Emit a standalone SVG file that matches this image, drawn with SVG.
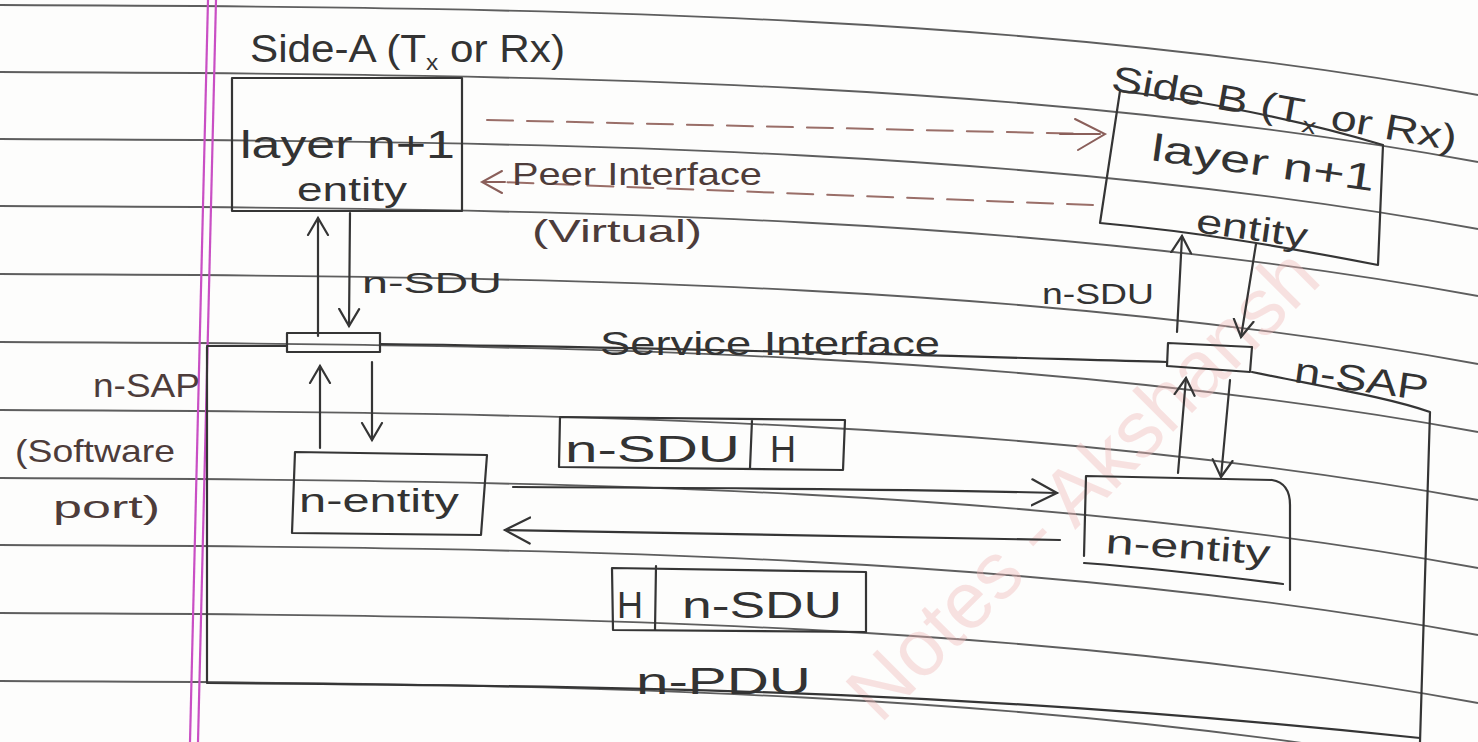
<svg xmlns="http://www.w3.org/2000/svg" width="1478" height="742" viewBox="0 0 1478 742">
<defs>
<style>
.rule{fill:none;stroke:#5e5e5e;stroke-width:1.8}
.margin{fill:none;stroke:#c94fc4;stroke-width:2.2}
.ink{fill:none;stroke:#353535;stroke-width:2.2;stroke-linecap:round;stroke-linejoin:round}
.peer{fill:none;stroke:#9a6e68;stroke-width:2;stroke-dasharray:26 14;stroke-linecap:round}
.peerhead{fill:none;stroke:#8a5f5a;stroke-width:2;stroke-linecap:round}
.t{font-family:"Liberation Sans",Arial,sans-serif;fill:#333}
.tb{font-family:"Liberation Sans",Arial,sans-serif;fill:#4d3c3a}
.wm{font-family:"Liberation Sans",Arial,sans-serif;fill:#f0b8b8;opacity:0.4}
</style>
<marker id="ah" markerWidth="26" markerHeight="26" refX="18" refY="11" orient="auto" markerUnits="userSpaceOnUse" viewBox="0 0 26 22">
<path d="M1,1 L18,11 L1,21" fill="none" stroke="#353535" stroke-width="2.2" stroke-linecap="round"/>
</marker>
<marker id="ahL" markerWidth="32" markerHeight="32" refX="26" refY="14" orient="auto" markerUnits="userSpaceOnUse" viewBox="0 0 32 28">
<path d="M1,1 L26,14 L1,27" fill="none" stroke="#353535" stroke-width="2.2" stroke-linecap="round"/>
</marker>
</defs>
<rect width="1478" height="742" fill="#fdfdfc"/>
<g id="paper">
<path class="rule" d="M0,5 C600,7 1050,17 1478,95"/>
<path class="rule" d="M0,72 C600,74 1050,84 1478,162"/>
<path class="rule" d="M0,139 C600,141 1050,151 1478,229"/>
<path class="rule" d="M0,206 C600,208 1050,218 1478,296"/>
<path class="rule" d="M0,274 C600,276 1050,286 1478,364"/>
<path class="rule" d="M0,342 C600,344 1050,354 1478,432"/>
<path class="rule" d="M0,410 C600,412 1050,422 1478,500"/>
<path class="rule" d="M0,478 C600,480 1050,490 1478,568"/>
<path class="rule" d="M0,545 C600,547 1050,557 1478,635"/>
<path class="rule" d="M0,613 C600,615 1050,625 1478,703"/>
<path class="rule" d="M0,681 C600,683 1050,693 1478,771"/>
<path class="margin" d="M208,0 L190,742"/>
<path class="margin" d="M216,0 L198,742"/>
</g>
<text class="wm" font-size="80" transform="translate(880,725) rotate(-45)">Notes - Akshansh</text>
<g id="outer-box">
<path class="ink" d="M207,347 L207,683 C700,686 1000,694 1420,738"/>
<path class="ink" d="M1252,372 C1330,388 1390,398 1430,412 L1420,742"/>
</g>
<g id="side-a-label">
<text class="t" x="250" y="62" font-size="38" textLength="315" lengthAdjust="spacingAndGlyphs">Side-A (T<tspan font-size="22" dy="8">x</tspan><tspan dy="-8"> or Rx)</tspan></text>
</g>
<g id="layer-a">
<rect class="ink" x="232" y="78" width="230" height="133"/>
<text class="t" x="240" y="158" font-size="38" textLength="215" lengthAdjust="spacingAndGlyphs">layer n+1</text>
<text class="t" x="297" y="201" font-size="34" textLength="110" lengthAdjust="spacingAndGlyphs">entity</text>
</g>
<g id="side-b-label">
<text class="t" x="1110" y="90" font-size="36" textLength="350" lengthAdjust="spacingAndGlyphs" transform="rotate(10 1110 90)">Side B (T<tspan font-size="22" dy="8">x</tspan><tspan dy="-8"> or Rx)</tspan></text>
</g>
<g id="layer-b">
<path class="ink" d="M1120,91 C1200,100 1300,120 1383,145 L1378,265 C1290,248 1200,232 1100,223 Z"/>
<text class="t" x="1150" y="160" font-size="38" textLength="225" lengthAdjust="spacingAndGlyphs" transform="rotate(8 1150 160)">layer n+1</text>
<text class="t" x="1195" y="232" font-size="34" textLength="112" lengthAdjust="spacingAndGlyphs" transform="rotate(8 1195 232)">entity</text>
</g>
<g id="peer-interface">
<path class="peer" d="M487,120 L1090,134"/>
<path class="peerhead" d="M1075,119 L1105,134 L1078,150 M1060,134 L1100,134"/>
<path class="peer" d="M1093,205 L500,182"/>
<path class="peerhead" d="M502,171 L482,182 L502,193 M482,182 L505,182"/>
<text class="tb" x="512" y="185" font-size="32" textLength="250" lengthAdjust="spacingAndGlyphs">Peer Interface</text>
<text class="tb" x="532" y="242" font-size="32" textLength="170" lengthAdjust="spacingAndGlyphs">(Virtual)</text>
</g>
<g id="sap-a">
<rect class="ink" x="287" y="333" width="93" height="19"/>
</g>
<g id="sap-b">
<path class="ink" d="M1168,343 L1252,347 L1250,372 L1167,366 Z"/>
</g>
<g id="service-interface">
<path class="ink" d="M207,346 L287,346 M380,344 C700,348 950,356 1167,362"/>
<text class="t" x="600" y="355" font-size="34" textLength="340" lengthAdjust="spacingAndGlyphs">Service Interface</text>
</g>
<g id="n-entity-a">
<path class="ink" d="M295,452 L487,455 L481,535 L292,533 Z"/>
<text class="t" x="299" y="512" font-size="34" textLength="160" lengthAdjust="spacingAndGlyphs">n-entity</text>
</g>
<g id="n-entity-b">
<path class="ink" d="M1084,556 L1086,476 L1272,480 Q1290,483 1290,505 L1290,590 M1084,563 C1150,568 1220,576 1283,584"/>
<text class="t" x="1105" y="553" font-size="34" textLength="165" lengthAdjust="spacingAndGlyphs" transform="rotate(4 1105 553)">n-entity</text>
</g>
<g id="pdu-top">
<path class="ink" d="M560,417 L845,420 L843,470 L559,467 Z M752,420 L750,468"/>
<text class="t" x="565" y="462" font-size="36" textLength="175" lengthAdjust="spacingAndGlyphs">n-SDU</text>
<text class="t" x="770" y="462" font-size="36">H</text>
</g>
<g id="pdu-bottom">
<path class="ink" d="M612,568 L866,572 L866,632 L613,630 Z M656,566 L655,630"/>
<text class="t" x="617" y="618" font-size="36">H</text>
<text class="t" x="682" y="618" font-size="36" textLength="160" lengthAdjust="spacingAndGlyphs">n-SDU</text>
<text class="t" x="636" y="694" font-size="36" textLength="175" lengthAdjust="spacingAndGlyphs">n-PDU</text>
</g>
<g id="labels">
<text class="t" x="362" y="293" font-size="30" textLength="140" lengthAdjust="spacingAndGlyphs">n-SDU</text>
<text class="t" x="1042" y="304" font-size="30" textLength="112" lengthAdjust="spacingAndGlyphs">n-SDU</text>
<text class="t" x="1293" y="382" font-size="36" textLength="135" lengthAdjust="spacingAndGlyphs" transform="rotate(8 1293 382)">n-SAP</text>
<text class="tb" x="93" y="397" font-size="34" textLength="107" lengthAdjust="spacingAndGlyphs">n-SAP</text>
<text class="tb" x="15" y="462" font-size="32" textLength="160" lengthAdjust="spacingAndGlyphs">(Software</text>
<text class="tb" x="53" y="518" font-size="32" textLength="107" lengthAdjust="spacingAndGlyphs">port)</text>
</g>
<g id="connectors">
<path class="ink" d="M318,336 L318,218" marker-end="url(#ah)"/>
<path class="ink" d="M350,213 L349,326" marker-end="url(#ah)"/>
<path class="ink" d="M320,448 L320,366" marker-end="url(#ah)"/>
<path class="ink" d="M372,362 L372,440" marker-end="url(#ah)"/>
<path class="ink" d="M1177,332 L1182,236" marker-end="url(#ah)"/>
<path class="ink" d="M1256,244 L1241,337" marker-end="url(#ah)"/>
<path class="ink" d="M1178,473 L1186,378" marker-end="url(#ah)"/>
<path class="ink" d="M1230,380 L1221,477" marker-end="url(#ah)"/>
<path class="ink" d="M513,487 C750,488 950,490 1057,493" marker-end="url(#ahL)"/>
<path class="ink" d="M1060,540 C850,537 650,533 505,530" marker-end="url(#ahL)"/>
</g>
</svg>
